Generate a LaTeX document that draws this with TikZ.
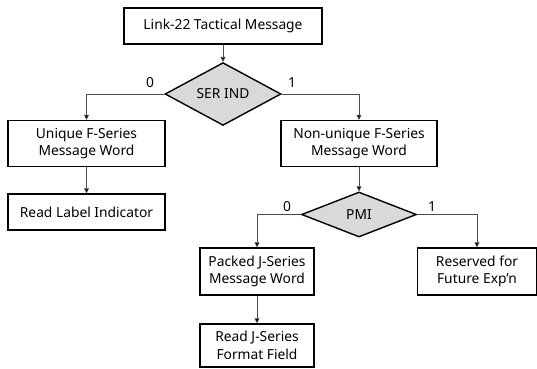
\documentclass[tikz,border=0pt]{standalone}
\usepackage{fontspec}
\setmainfont{Noto Sans}
\usetikzlibrary{shapes.geometric,arrows.meta}
\begin{document}
\begin{tikzpicture}[x=1pt,y=-1pt,
  box/.style={draw=black,line width=1.4pt,fill=white,align=center,inner sep=0pt,font=\fontsize{13.8}{17.5}\selectfont},
  dec/.style={diamond,draw=black,line width=1.4pt,fill=gray!30,inner sep=0pt,font=\fontsize{13.8}{17.5}\selectfont},
  conn/.style={draw=black!70,line width=0.7pt,-{Triangle[length=5pt,width=5pt,fill=black]}},
  lab/.style={font=\fontsize{13.8}{17.5}\selectfont,inner sep=0pt}]
\useasboundingbox[fill=white] (0,0) rectangle (537,368);
\node[box,minimum width=198pt,minimum height=36pt] (top) at (223,26) {Link-22 Tactical Message};
\node[dec,minimum width=116pt,minimum height=54pt] (ser) at (223,94) {SER IND};
\node[box,minimum width=157pt,minimum height=46pt] (uni) at (86.5,143.5) {Unique F-Series\\Message Word};
\node[box,minimum width=156pt,minimum height=46pt] (non) at (359,143.5) {Non-unique F-Series\\Message Word};
\node[box,minimum width=157pt,minimum height=36pt] (rli) at (86.5,212) {Read Label Indicator};
\node[dec,minimum width=115pt,minimum height=45pt] (pmi) at (359,214.5) {PMI};
\node[box,minimum width=114pt,minimum height=47pt] (pac) at (257,271.5) {Packed J-Series\\Message Word};
\node[box,minimum width=119pt,minimum height=47pt] (res) at (477,271.5) {Reserved for\\Future Exp'n};
\node[box,minimum width=114pt,minimum height=43pt] (rjf) at (257,345.5) {Read J-Series\\Format Field};
\draw[conn] (top) -- (ser);
\draw[conn] (ser.west) -| (uni.north);
\draw[conn] (ser.east) -| (non.north);
\draw[conn] (uni) -- (rli);
\draw[conn] (non) -- (pmi);
\draw[conn] (pmi.west) -| (pac.north);
\draw[conn] (pmi.east) -| (res.north);
\draw[conn] (pac) -- (rjf);
\node[lab] (l0a) at (150,83) {0};
\node[lab] (l1a) at (292,83) {1};
\node[lab] (l0b) at (287,207) {0};
\node[lab] (l1b) at (432,207) {1};
\end{tikzpicture}
\end{document}
